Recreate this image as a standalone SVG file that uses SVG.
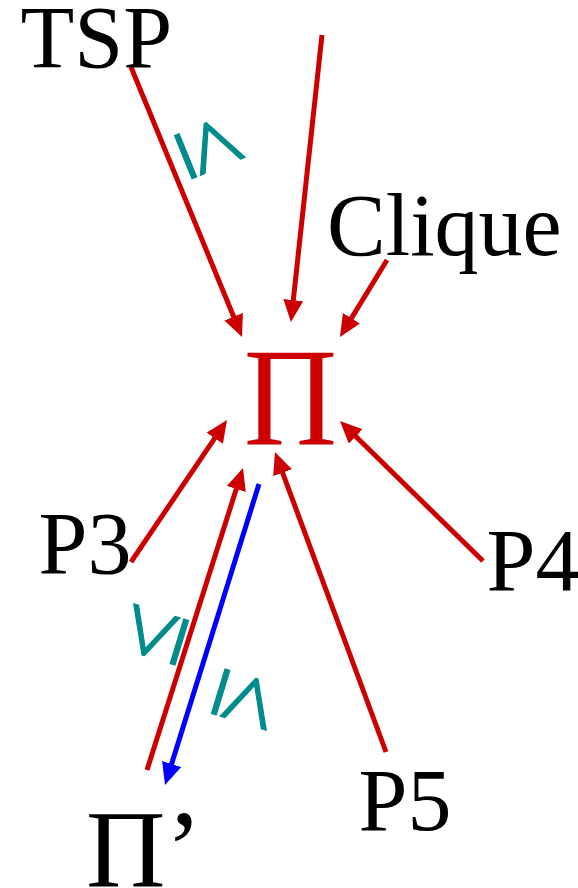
<svg xmlns="http://www.w3.org/2000/svg" width="578" height="888" viewBox="0 0 578 888">
<defs>
<style>
.lbl{font-family:"Liberation Serif","Times New Roman",serif;font-size:88px;fill:#000}
.pi{font-family:"Liberation Serif","Times New Roman",serif;font-size:139px;fill:#cc0000}
.pip{font-family:"Liberation Serif","Times New Roman",serif;font-size:110px;fill:#000}
.le{font-family:"Liberation Serif","Times New Roman",serif;font-size:100px;fill:#008c8c;stroke:#008c8c;stroke-width:1.2;text-anchor:middle}
.r{stroke:#cc0000;stroke-width:5;fill:none}
.b{stroke:#0000ff;stroke-width:5;fill:none}
</style>
<marker id="ar" markerUnits="userSpaceOnUse" markerWidth="24" markerHeight="22" refX="2" refY="10" orient="auto" viewBox="0 0 24 22"><path d="M0,0 L22,10 L0,20 z" fill="#cc0000"/></marker>
<marker id="ab" markerUnits="userSpaceOnUse" markerWidth="24" markerHeight="22" refX="2" refY="10" orient="auto" viewBox="0 0 24 22"><path d="M0,0 L22,10 L0,20 z" fill="#0000ff"/></marker>
</defs>
<g id="connectors">
<line class="r" x1="131" y1="67" x2="234.4" y2="318.5" marker-end="url(#ar)"/>
<line class="r" x1="322" y1="35" x2="293.1" y2="302.1" marker-end="url(#ar)"/>
<line class="r" x1="387" y1="260" x2="350.4" y2="319.9" marker-end="url(#ar)"/>
<line class="r" x1="131" y1="562" x2="215.8" y2="436.6" marker-end="url(#ar)"/>
<line class="r" x1="483" y1="561" x2="354.3" y2="435" marker-end="url(#ar)"/>
<line class="r" x1="386" y1="752" x2="281.9" y2="470.8" marker-end="url(#ar)"/>
<line class="r" x1="147" y1="770" x2="236.9" y2="487.1" marker-end="url(#ar)"/>
<line class="b" x1="259" y1="484" x2="171" y2="765.9" marker-end="url(#ab)"/>
<text class="le" transform="translate(211,146) rotate(68)" x="0" y="30">≤</text>
<text class="le" transform="translate(153,634) rotate(-73)" x="0" y="30">≤</text>
<text class="le" transform="translate(247,700) rotate(107)" x="0" y="30">≤</text>
</g>
<g id="tsp"><text class="lbl" x="20.5" y="67">TSP</text></g>
<g id="clique"><text class="lbl" x="327" y="255">Clique</text></g>
<g id="pi"><text class="pi" transform="translate(290.5,445) scale(0.93,1)" x="0" y="0" text-anchor="middle">Π</text></g>
<g id="p3"><text class="lbl" x="38.5" y="573">P3</text></g>
<g id="p4"><text class="lbl" x="486.5" y="590">P4</text></g>
<g id="p5"><text class="lbl" x="358.5" y="830">P5</text></g>
<g id="piprime"><text class="pip" x="86" y="886">Π’</text></g>
</svg>
